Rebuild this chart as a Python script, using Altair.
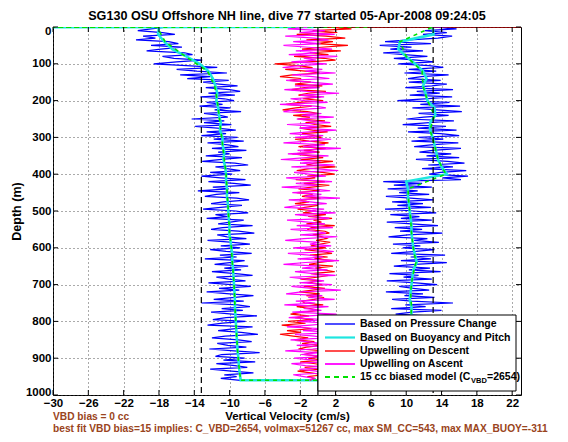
import altair as alt
import pandas as pd

TITLE = "SG130 OSU Offshore NH line, dive 77 started 05-Apr-2008 09:24:05"
X_TITLE = "Vertical Velocity (cm/s)"
Y_TITLE = "Depth (m)"
NOTE_1 = "VBD bias = 0 cc"
NOTE_2 = "best fit VBD bias=15 implies: C_VBD=2654, volmax=51267 cc, max SM_CC=543, max MAX_BUOY=-311"
LEGEND_LABELS = ["Based on Pressure Change", "Based on Buoyancy and Pitch",
                 "Upwelling on Descent", "Upwelling on Ascent"]
MODEL_LABEL = ["15 cc biased model (C", "VBD", "=2654)"]

X_TICKS = [-30, -26, -22, -18, -14, -10, -6, -2, 2, 6, 10, 14, 18, 22]
Y_TICKS = [0, 100, 200, 300, 400, 500, 600, 700, 800, 900, 1000]

# sample depths (m), every 5 m
DEPTH = [0, 5, 10, 15, 20, 25, 30, 35, 40, 45,
         50, 55, 60, 65, 70, 75, 80, 85, 90, 95,
         100, 105, 110, 115, 120, 125, 130, 135, 140, 145,
         150, 155, 160, 165, 170, 175, 180, 185, 190, 195,
         200, 205, 210, 215, 220, 225, 230, 235, 240, 245,
         250, 255, 260, 265, 270, 275, 280, 285, 290, 295,
         300, 305, 310, 315, 320, 325, 330, 335, 340, 345,
         350, 355, 360, 365, 370, 375, 380, 385, 390, 395,
         400, 405, 410, 415, 420, 425, 430, 435, 440, 445,
         450, 455, 460, 465, 470, 475, 480, 485, 490, 495,
         500, 505, 510, 515, 520, 525, 530, 535, 540, 545,
         550, 555, 560, 565, 570, 575, 580, 585, 590, 595,
         600, 605, 610, 615, 620, 625, 630, 635, 640, 645,
         650, 655, 660, 665, 670, 675, 680, 685, 690, 695,
         700, 705, 710, 715, 720, 725, 730, 735, 740, 745,
         750, 755, 760, 765, 770, 775, 780, 785, 790, 795,
         800, 805, 810, 815, 820, 825, 830, 835, 840, 845,
         850, 855, 860, 865, 870, 875, 880, 885, 890, 895,
         900, 905, 910, 915, 920, 925, 930, 935, 940, 945,
         950, 955, 960]

# vertical velocity from pressure change, cm/s (descent / ascent, by depth)
PRESS_DESC = [-17.0, -18.9, -20.4, -17.6, -16.2, -19.8, -18.4, -20.6, -16.9, -15.8,
              -18.9, -15.4, -17.8, -19.4, -15.1, -14.2, -17.6, -16.3, -13.1, -16.0,
              -18.6, -14.9, -11.4, -16.0, -13.7, -10.3, -15.6, -12.2, -14.8, -10.1,
              -13.0, -11.2, -9.1, -12.7, -10.0, -8.8, -12.4, -9.4, -13.3, -10.6,
              -9.5, -12.6, -10.8, -13.4, -9.9, -11.7, -8.7, -12.9, -11.1, -10.2,
              -14.3, -10.6, -12.9, -9.8, -13.9, -11.4, -9.3, -12.6, -10.4, -13.2,
              -9.1, -11.8, -8.4, -12.5, -10.2, -9.0, -12.0, -8.1, -11.3, -10.0,
              -12.7, -8.6, -10.9, -13.1, -9.4, -7.9, -11.6, -10.3, -8.8, -12.2,
              -9.7, -13.2, -11.0, -8.2, -12.4, -9.5, -7.6, -11.9, -10.1, -13.6,
              -8.9, -11.5, -12.8, -9.2, -7.8, -10.7, -12.1, -8.6, -11.0, -13.0,
              -9.3, -7.9, -11.6, -10.2, -12.6, -8.4, -9.9, -11.3, -7.4, -10.8,
              -12.1, -9.0, -7.2, -11.4, -10.3, -8.1, -12.5, -9.6, -7.7, -11.0,
              -8.8, -12.2, -10.4, -7.5, -11.1, -9.2, -12.8, -8.3, -10.0, -11.7,
              -7.9, -10.6, -8.7, -12.0, -9.3, -7.4, -11.5, -10.1, -8.2, -12.4,
              -9.8, -7.6, -11.2, -8.9, -12.6, -10.0, -7.3, -9.4, -11.8, -8.4,
              -13.2, -9.1, -7.7, -10.9, -8.5, -12.1, -9.7, -6.9, -10.4, -11.9,
              -8.2, -10.8, -12.5, -7.4, -9.6, -11.3, -8.7, -6.8, -10.5, -12.0,
              -9.0, -7.5, -11.4, -10.2, -8.1, -12.3, -9.5, -6.6, -10.9, -11.6,
              -8.3, -10.7, -7.1, -11.5, -9.4, -8.0, -12.2, -9.8, -7.3, -10.6,
              -9.2, -11.0, -8.8]
PRESS_ASC = [13.0, 15.7, 12.1, 14.6, 11.9, 15.2, 13.6, 10.4, 7.6, 12.8,
             7.0, 10.6, 8.2, 11.9, 7.4, 9.8, 12.4, 8.6, 11.2, 13.1,
             9.1, 12.6, 14.2, 10.3, 13.4, 9.8, 14.8, 11.7, 10.2, 13.9,
             10.3, 14.6, 12.9, 9.9, 15.3, 11.2, 13.8, 10.4, 15.2, 12.1,
             9.0, 14.9, 11.6, 16.1, 10.7, 13.5, 16.3, 11.4, 14.8, 12.0,
             10.1, 15.4, 12.6, 9.6, 14.5, 11.3, 15.7, 10.2, 13.9, 16.0,
             11.4, 14.2, 10.6, 15.9, 12.8, 10.9, 16.2, 13.0, 11.5, 15.1,
             12.3, 16.0, 11.1, 14.7, 16.6, 12.5, 15.3, 11.8, 16.8, 13.9,
             12.6, 17.0, 14.1, 16.2, 7.4, 11.8, 8.6, 12.9, 7.9, 11.3,
             9.2, 12.6, 7.7, 10.5, 13.1, 8.4, 11.9, 9.0, 12.8, 7.6,
             10.9, 13.4, 8.2, 11.5, 9.4, 12.9, 7.8, 10.6, 13.6, 8.7,
             11.8, 9.3, 14.1, 10.2, 8.0, 12.4, 10.9, 13.7, 8.5, 11.6,
             9.6, 13.2, 11.1, 8.3, 14.4, 10.5, 12.8, 9.4, 14.6, 11.0,
             8.6, 12.7, 10.3, 13.9, 8.1, 11.4, 9.7, 12.9, 7.8, 11.1,
             13.5, 9.2, 10.8, 12.6, 7.7, 11.9, 9.8, 13.2, 8.4, 10.6,
             15.3, 9.9, 12.2, 8.3, 14.0, 10.7, 8.8, 12.5, 10.1, 13.3,
             8.7, 11.6, 13.0, 9.2, 12.1, 8.0, 10.9, 13.4, 9.5, 11.8,
             8.4, 12.7, 10.2, 9.0, 13.1, 11.3, 8.6, 12.0, 10.5, 9.3,
             12.9, 10.1, 8.5, 11.7, 13.2, 9.6, 10.8, 8.9, 12.4, 10.0,
             11.6, 9.1, 10.3]

# based on buoyancy and pitch (every 20 m)
BUOY_DESC = [-18.0, -18.1, -17.4, -16.5, -14.9, -13.4, -12.4, -11.9, -11.6, -11.4,
             -11.5, -11.3, -11.2, -11.0, -11.1, -10.8, -10.8, -10.6, -10.7, -10.5,
             -10.4, -10.4, -10.3, -10.3, -10.2, -10.15, -10.1, -10.0, -10.05, -9.9,
             -9.8, -9.7, -9.7, -9.6, -9.55, -9.5, -9.45, -9.4, -9.4, -9.35,
             -9.3, -9.25, -9.2, -9.15, -9.1, -9.0, -8.95, -8.85, -8.75]
BUOY_ASC = [13.0, 13.1, 9.3, 9.1, 10.0, 11.0, 11.9, 12.3, 11.9, 12.2,
            12.4, 13.2, 13.3, 12.7, 12.7, 13.0, 13.2, 13.4, 13.6, 14.0,
            14.6, 10.0, 10.2, 10.2, 10.3, 10.4, 10.5, 10.6, 10.6, 10.7,
            10.8, 11.0, 11.2, 10.8, 10.7, 10.6, 10.5, 10.4, 10.6, 10.6,
            10.5, 10.5, 10.4, 10.4, 10.3, 10.3, 10.2, 10.2, 10.0]
BUOY_LEAD_D = [0, 1]
BUOY_LEAD_V = [-0.5, -40.0]

# 15 cc biased model (every 40 m)
MODEL_DESC = [-18.2, -17.3, -15.0, -12.5, -11.7, -11.4, -11.2, -11.0, -10.8, -10.6,
              -10.4, -10.3, -10.2, -10.1, -10.0, -9.8, -9.7, -9.55, -9.45, -9.4,
              -9.3, -9.2, -9.1, -8.95, -8.75]
MODEL_ASC = [13.0, 9.3, 10.0, 11.8, 11.9, 12.4, 13.2, 12.7, 13.2, 13.6,
             14.5, 10.2, 10.3, 10.5, 10.6, 10.8, 11.1, 10.7, 10.5, 10.6,
             10.5, 10.4, 10.3, 10.2, 10.0]
MODEL_LEAD_D = [0, 1]
MODEL_LEAD_V = [5.6, -40.0]

# upwelling estimates (every 5 m)
UP_DESC = [1.0, 3.8, -0.6, 2.2, -2.4, 0.9, 3.1, -1.3, 1.7, -0.2,
           3.4, 0.4, -1.8, 2.6, -0.9, 1.2, -2.7, 0.7, 2.0, -1.1,
           -4.9, -2.3, -0.6, -3.7, -1.4, 0.2, -2.9, -4.3, -1.9, -3.2,
           -0.8, -2.6, 0.5, -1.5, -3.0, 0.9, -1.1, -2.2, 0.3, -1.7,
           0.6, -2.1, -3.6, -0.7, -2.5, -4.0, -1.2, 0.1, -2.8, -0.9,
           -2.3, 0.8, -1.4, -0.3, 1.5, -2.0, -0.6, 1.1, -1.8, -0.4,
           0.4, -2.6, -1.0, 1.2, -0.5, -2.2, 0.9, -1.6, 0.2, -2.9,
           -0.8, 0.6, -1.9, 1.7, -0.4, -1.3, 2.0, -0.9, -2.4, 0.5,
           1.9, -1.2, -0.3, -2.5, 0.8, -1.6, 1.3, -0.7, -2.2, 0.2,
           -2.4, -0.6, -1.8, 0.3, -2.1, -1.0, -2.6, 0.0, -1.5, -2.3,
           -0.2, -1.7, 0.9, -1.1, 1.6, -0.5, 0.4, -1.3, 1.9, -0.7,
           -1.2, 0.8, 1.3, -0.6, 0.5, 1.0, -0.2, 1.4, 0.3, -0.8,
           0.9, -1.5, 0.4, 1.6, -0.9, 1.1, -0.4, 1.8, 0.2, -1.0,
           1.7, -0.3, 0.6, 1.9, -0.8, 1.2, -0.1, -1.9, 0.4, -1.2,
           0.5, -1.6, 0.8, -0.6, -2.1, 0.2, -1.3, 0.7, -0.4, -1.8,
           -1.5, 0.6, -2.4, -0.9, 0.1, -1.7, -3.1, -1.0, -2.6, -0.5,
           -3.4, -1.4, -4.1, -2.2, -0.7, -3.5, -1.9, -4.3, -2.8, -1.1,
           -2.6, -0.4, -1.8, 0.5, -1.3, -2.2, 0.9, -0.7, -1.6, 0.3,
           -1.1, 0.6, -2.0, -0.3, 0.9, -1.5, 0.2, -2.3, -0.8, 0.7,
           -1.2, -0.4, -0.9]
UP_LEAD_D = [0]
UP_LEAD_V = [40.0]
UP_ASC = [-1.0, -3.4, 0.8, -2.1, 1.9, -3.7, -0.4, 1.2, -2.8, 0.3,
          -3.9, -1.1, 1.6, -2.5, 0.1, -3.3, 2.2, -1.6, -0.2, -3.0,
          1.0, -2.2, -4.0, 0.5, -1.4, 2.0, -2.9, -0.6, 1.3, -3.6,
          -0.9, 1.7, -2.6, 0.2, -3.8, -1.2, 2.4, -2.0, 0.7, -3.1,
          -1.5, 1.1, -4.3, -0.3, 0.9, -2.7, -3.9, 0.4, -1.8, 1.8,
          -2.4, -0.7, 1.4, -3.5, 0.0, -2.1, 2.1, -1.0, -3.2, 0.6,
          -2.6, 1.5, -0.8, -3.9, 0.8, -1.7, 2.6, -2.3, -0.1, -3.4,
          1.2, -1.3, -4.2, 0.3, -2.0, 1.9, -3.0, -0.5, 2.3, -2.7,
          -1.0, 0.9, -3.6, -1.9, 1.6, -2.5, 0.1, -4.1, -0.6, 1.4,
          -2.9, 0.4, -1.5, 2.5, -3.3, -0.9, 1.0, -2.2, -3.8, 0.7,
          -1.2, 2.0, -2.6, -0.3, 1.3, -3.5, -1.1, 0.8, -2.4, 1.7,
          -3.1, -0.4, 0.9, -2.0, 2.2, -1.6, -3.7, 0.2, -0.9, 1.5,
          -2.8, -0.2, 1.8, -3.4, -1.0, 0.6, -2.3, 2.4, -1.4, -3.9,
          0.3, -1.8, 1.1, -2.6, -0.5, 2.0, -3.2, -1.2, 0.7, -2.1,
          1.6, -3.0, -0.7, 2.6, -1.9, -3.6, 0.5, -1.1, 1.9, -2.5,
          -0.3, -3.8, 1.2, -1.6, 0.4, -2.9, 2.1, -1.0, -3.3, 0.9,
          -2.2, 1.4, -0.8, -3.5, 0.7, -1.7, 2.3, -2.6, -0.4, 1.0,
          -3.1, -1.3, 0.5, -2.4, 1.7, -0.6, -3.7, 0.2, -1.9, 1.3,
          -2.7, -0.5, 0.8, -3.0, -1.4, 1.5, -2.1, -0.2, 0.6, -2.8,
          -1.6, -0.3, -1.1]

LIMIT_X = [-13.2, 13.05]
ZERO_X = [0.0]

FONT = "Liberation Sans"
C_BLUE = "#0000ff"
C_CYAN = "#1ee6e0"
C_RED = "#ff0000"
C_MAG = "#ff00ff"
C_GREEN = "#00e000"
C_NOTE = "#9a4420"

W, H = 468, 368


def path(desc_d, desc_v, asc_d, asc_v, lead_d=(), lead_v=()):
    rows = list(zip(lead_d, lead_v)) + list(zip(desc_d, desc_v)) + list(zip(asc_d, asc_v))[::-1]
    return pd.DataFrame({"seq": list(range(len(rows))),
                         "depth": [r[0] for r in rows],
                         "v": [r[1] for r in rows]})


D20 = DEPTH[::4]
D40 = DEPTH[::8]
df_press = path(DEPTH, PRESS_DESC, DEPTH, PRESS_ASC)
df_buoy = path(D20, BUOY_DESC, D20, BUOY_ASC, BUOY_LEAD_D, BUOY_LEAD_V)
df_model = path(D40, MODEL_DESC, D40, MODEL_ASC, MODEL_LEAD_D, MODEL_LEAD_V)
df_updesc = path(DEPTH, UP_DESC, [], [], UP_LEAD_D, UP_LEAD_V)
df_upasc = path([], [], DEPTH, UP_ASC)

xs = alt.Scale(domain=[-30, 23], nice=False, zero=False)
ys = alt.Scale(domain=[0, 1000], reverse=True, nice=False, zero=False)
X_ENC = alt.X("v:Q", scale=xs,
              axis=alt.Axis(values=X_TICKS, title=X_TITLE, labelFlush=False,
                            labelOverlap=False, format="d"))
Y_ENC = alt.Y("depth:Q", scale=ys,
              axis=alt.Axis(values=Y_TICKS, title=Y_TITLE, format="d",
                            labelOverlap=False))


def line(df, color, width, dash=None):
    kw = dict(color=color, strokeWidth=width, clip=True, strokeJoin="miter")
    if dash:
        kw["strokeDash"] = dash
    return alt.Chart(df).mark_line(**kw).encode(x=X_ENC, y=Y_ENC, order="seq:Q")


layers = [
    line(df_press, C_BLUE, 1.25),
    line(df_buoy, C_CYAN, 2.6),
    line(df_updesc, C_RED, 1.2),
    line(df_upasc, C_MAG, 1.2),
    line(df_model, C_GREEN, 1.6, [4, 4]),
]

df_lim = pd.DataFrame({"v": LIMIT_X})
df_zero = pd.DataFrame({"v": ZERO_X})
layers.append(alt.Chart(df_lim).mark_rule(color="black", strokeWidth=1.2, strokeDash=[6, 4]).encode(
    x=X_ENC, y=alt.value(0), y2=alt.value(H)))
layers.append(alt.Chart(df_zero).mark_rule(color="black", strokeWidth=1.2).encode(
    x=X_ENC, y=alt.value(0), y2=alt.value(H)))

# inward ticks (MATLAB style)
df_xt = pd.DataFrame({"v": X_TICKS})
df_yt = pd.DataFrame({"depth": Y_TICKS})
layers.append(alt.Chart(df_xt).mark_rule(color="black", strokeWidth=1).encode(
    x=X_ENC, y=alt.value(H), y2=alt.value(H - 5)))
layers.append(alt.Chart(df_xt).mark_rule(color="black", strokeWidth=1).encode(
    x=X_ENC, y=alt.value(0), y2=alt.value(5)))
layers.append(alt.Chart(df_yt).mark_rule(color="black", strokeWidth=1).encode(
    y=Y_ENC, x=alt.value(0), x2=alt.value(5)))
layers.append(alt.Chart(df_yt).mark_rule(color="black", strokeWidth=1).encode(
    y=Y_ENC, x=alt.value(W - 5), x2=alt.value(W)))

# legend box
one = pd.DataFrame({"k": [0]})
LX0, LX1, LY0, LY1 = 265, 463, 288, 364
layers.append(alt.Chart(one).mark_rect(fill="white", stroke="black", strokeWidth=1).encode(
    x=alt.value(LX0), x2=alt.value(LX1), y=alt.value(LY0), y2=alt.value(LY1)))
ROW_Y = [297, 310.5, 324, 337, 350]
leg_colors = [C_BLUE, C_CYAN, C_RED, C_MAG]
leg_widths = [1.4, 2.2, 1.4, 1.8]
for i, lab in enumerate(LEGEND_LABELS):
    layers.append(alt.Chart(one).mark_rule(color=leg_colors[i], strokeWidth=leg_widths[i]).encode(
        x=alt.value(272), x2=alt.value(302), y=alt.value(ROW_Y[i])))
    layers.append(alt.Chart(pd.DataFrame({"t": [lab]})).mark_text(
        align="left", baseline="middle", font=FONT, fontSize=10.5, fontWeight="bold", color="black").encode(
        x=alt.value(307), y=alt.value(ROW_Y[i]), text="t:N"))
layers.append(alt.Chart(one).mark_rule(color=C_GREEN, strokeWidth=1.8, strokeDash=[5, 4]).encode(
    x=alt.value(272), x2=alt.value(302), y=alt.value(ROW_Y[4])))
layers.append(alt.Chart(pd.DataFrame({"t": [MODEL_LABEL[0]]})).mark_text(
    align="left", baseline="middle", font=FONT, fontSize=10.5, fontWeight="bold", color="black").encode(
    x=alt.value(307), y=alt.value(ROW_Y[4]), text="t:N"))
layers.append(alt.Chart(pd.DataFrame({"t": [MODEL_LABEL[1]]})).mark_text(
    align="left", baseline="middle", font=FONT, fontSize=7.5, fontWeight="bold", color="black").encode(
    x=alt.value(418), y=alt.value(ROW_Y[4] + 3.5), text="t:N"))
layers.append(alt.Chart(pd.DataFrame({"t": [MODEL_LABEL[2]]})).mark_text(
    align="left", baseline="middle", font=FONT, fontSize=10.5, fontWeight="bold", color="black").encode(
    x=alt.value(434), y=alt.value(ROW_Y[4]), text="t:N"))

# title and notes
layers.append(alt.Chart(pd.DataFrame({"t": [TITLE]})).mark_text(
    align="center", baseline="middle", font=FONT, fontSize=12.6, fontWeight="bold", color="black").encode(
    x=alt.value(W / 2), y=alt.value(-11.3), text="t:N"))
layers.append(alt.Chart(pd.DataFrame({"t": [NOTE_1]})).mark_text(
    align="left", baseline="middle", font=FONT, fontSize=10.2, fontWeight="bold", color=C_NOTE).encode(
    x=alt.value(0), y=alt.value(389.5), text="t:N"))
layers.append(alt.Chart(pd.DataFrame({"t": [NOTE_2]})).mark_text(
    align="left", baseline="middle", font=FONT, fontSize=10.2, fontWeight="bold", color=C_NOTE).encode(
    x=alt.value(0), y=alt.value(401.5), text="t:N"))

chart = alt.layer(*layers).properties(
    width=W, height=H,
    autosize=alt.AutoSizeParams(type="none"),
    padding={"left": 45, "top": 19, "right": 39, "bottom": 39},
).configure_view(stroke="black", strokeWidth=1).configure_axis(
    labelFont=FONT, labelFontWeight="bold", labelColor="black",
    titleFont=FONT, titleFontWeight="bold", titleColor="black",
    grid=True, gridColor="#444444", gridDash=[1, 3], gridWidth=1, gridOpacity=0.9,
    ticks=False, domain=False,
).configure_axisX(labelFontSize=11.5, labelPadding=2.5, titleFontSize=11.5,
                  titleBaseline="middle", titleY=21.5).configure_axisY(
    labelFontSize=11.5, labelPadding=2, titleFontSize=12.5, titlePadding=2,
    labelFlush=True, labelFlushOffset=2)

chart.save("out.html", embed_options={"renderer": "svg", "actions": False})
